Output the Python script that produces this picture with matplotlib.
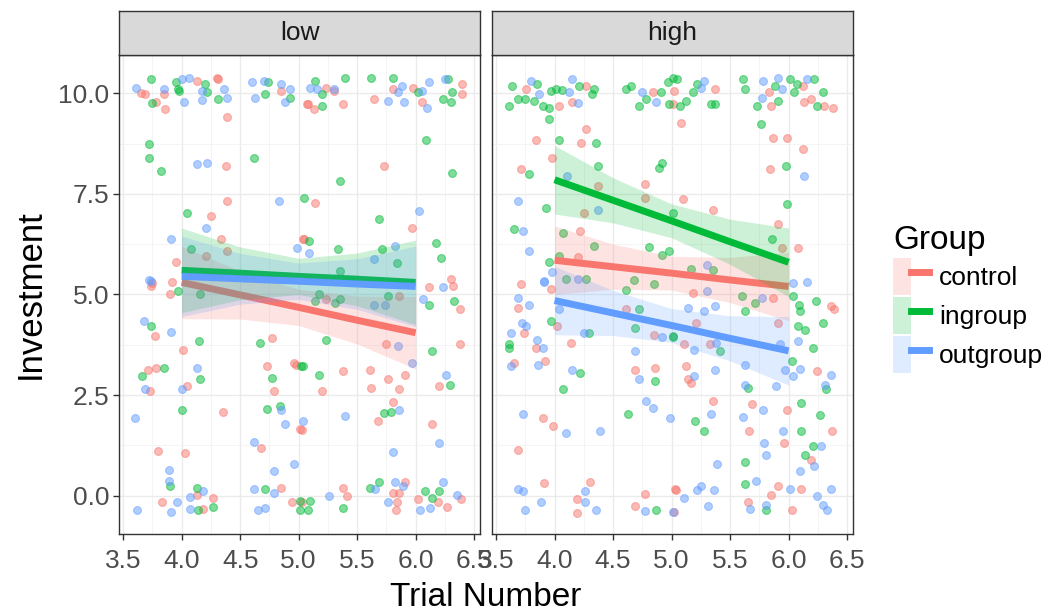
import numpy as np
import matplotlib
matplotlib.use("Agg")
import matplotlib.pyplot as plt
from matplotlib.patches import Patch
from matplotlib.lines import Line2D
from matplotlib.legend_handler import HandlerTuple

plt.rcParams['font.family'] = ['Liberation Sans', 'DejaVu Sans']

groups = ['control', 'ingroup', 'outgroup']
colors = ['#F8766D', '#00BA38', '#619CFF']
panels = ['low', 'high']

# jittered points: (trial number, investment)
low_control = [(3.65, 10.0), (3.69, 9.97), (3.78, 9.78), (3.85, 9.97), (3.86, 9.6), (4.13, 10.31), (4.3, 10.39),
               (4.31, 10.35), (4.39, 9.4), (4.85, 10.06), (5.08, 9.74), (4.38, 8.19), (4.39, 7.32), (4.25, 6.95),
               (4.34, 6.37), (4.21, 5.95), (4.39, 6.08), (3.95, 5.8), (5.05, 6.37), (3.75, 5.29), (3.92, 5.3),
               (5.23, 10.14), (5.3, 10.06), (5.07, 9.72), (5.13, 9.6), (5.38, 9.72), (5.64, 9.86), (5.81, 10.1),
               (5.98, 10.14), (6.05, 9.77), (6.4, 10.23), (6.4, 9.97), (5.73, 8.19), (5.14, 7.28), (5.97, 6.66),
               (5.04, 6.37), (6.3, 5.39), (6.11, 5.19), (6.32, 5.2), (3.74, 5.22), (3.9, 5.0), (3.77, 3.98),
               (4.01, 3.63), (3.71, 3.13), (3.78, 3.18), (3.73, 2.6), (4.05, 2.72), (4.35, 2.08), (3.8, 1.1),
               (4.03, 1.06), (4.13, 0.02), (4.27, -0.06), (3.83, -0.16), (4.18, -0.33), (4.77, 3.92), (4.73, 3.22),
               (4.79, 2.6), (4.96, 3.3), (4.98, 3.26), (5.01, 1.66), (4.68, 1.19), (4.85, 0.19), (4.94, -0.16),
               (6.38, 4.63), (5.23, 4.89), (5.86, 4.96), (5.75, 3.77), (6.38, 3.77), (5.2, 2.6), (5.38, 3.09),
               (5.61, 3.13), (5.76, 2.9), (5.91, 3.01), (5.62, 2.68), (5.86, 2.64), (6.2, 2.72), (5.03, 1.64),
               (5.81, 2.32), (5.68, 1.85), (6.14, 1.77), (5.03, -0.16), (5.38, 0.19), (5.41, 0.0), (5.91, 0.33),
               (5.81, 0.08), (5.86, 0.06), (5.84, -0.16), (5.83, -0.36), (6.02, -0.08), (6.19, -0.16),
               (6.27, -0.28), (6.39, -0.08)]
low_ingroup = [(3.74, 10.35), (3.75, 9.75), (3.95, 10.27), (3.97, 10.1), (3.98, 10.06), (4.2, 10.23), (4.22, 10.02),
               (4.31, 9.85), (4.74, 10.27), (4.71, 9.97), (4.93, 9.89), (3.72, 8.73), (3.72, 8.4), (3.82, 8.07),
               (4.62, 8.4), (5.05, 7.4), (4.05, 7.03), (4.08, 6.12), (5.09, 6.33), (5.14, 10.31), (5.2, 9.97),
               (5.2, 9.68), (5.4, 10.39), (5.62, 10.39), (5.81, 10.39), (6.02, 10.02), (6.28, 10.35), (6.31, 10.02),
               (6.23, 9.85), (6.3, 9.77), (6.09, 8.85), (6.31, 8.03), (5.35, 7.82), (5.69, 6.87), (5.34, 6.12),
               (5.71, 6.12), (5.84, 5.79), (5.35, 5.58), (6.17, 6.29), (6.22, 5.91), (3.97, 5.08), (4.16, 5.0),
               (3.74, 4.21), (4.15, 3.84), (3.85, 3.18), (3.66, 2.97), (4.16, 2.89), (4.0, 2.14), (3.9, 0.23),
               (4.13, 0.19), (4.27, -0.27), (4.14, -0.36), (4.67, 3.8), (4.77, 2.93), (5.02, 3.23), (4.73, 2.15),
               (4.84, 2.24), (4.71, 0.17), (5.01, -0.13), (5.01, -0.35), (6.11, 4.75), (6.33, 4.83), (5.17, 5.0),
               (5.14, 4.83), (5.31, 4.79), (5.35, 4.88), (5.76, 4.96), (5.23, 3.88), (6.14, 3.59), (5.04, 3.22),
               (5.17, 3.01), (6.29, 2.76), (5.73, 2.06), (5.79, 2.08), (5.1, -0.13), (5.08, -0.36), (5.38, -0.31),
               (5.61, 0.19), (5.69, 0.33), (6.08, 0.13), (6.14, -0.05), (6.2, 0.13)]
low_outgroup = [(3.61, 10.13), (3.85, 10.1), (4.0, 10.35), (4.06, 10.39), (4.02, 9.79), (4.17, 10.06), (4.17, 9.82),
                (4.36, 10.1), (4.39, 9.89), (4.6, 10.27), (4.63, 9.89), (4.7, 10.31), (4.85, 10.23), (4.93, 10.1),
                (4.88, 9.77), (4.13, 8.23), (4.22, 8.27), (4.83, 7.32), (4.21, 6.66), (3.91, 6.37), (4.99, 6.16),
                (3.72, 5.37), (5.1, 10.14), (5.16, 10.1), (5.3, 10.1), (5.88, 10.18), (5.85, 10.02), (5.76, 9.81),
                (5.9, 9.77), (6.11, 10.27), (6.05, 10.06), (6.1, 9.64), (6.25, 10.35), (6.03, 7.07), (5.09, 6.04),
                (5.64, 5.87), (5.82, 6.2), (6.23, 5.19), (3.74, 5.33), (3.68, 4.34), (3.91, 4.06), (4.13, 3.18),
                (3.69, 2.65), (4.0, 2.64), (3.6, 1.93), (3.89, 0.65), (3.89, 0.36), (4.18, 0.11), (4.07, -0.02),
                (3.96, -0.16), (4.07, -0.33), (3.62, -0.36), (3.91, -0.4), (4.85, 2.14), (4.88, 1.78), (5.04, 1.85),
                (4.62, 1.33), (4.96, 0.79), (4.79, 0.61), (4.62, 0.17), (4.79, 0.07), (4.65, -0.36), (4.71, -0.31),
                (6.06, 4.88), (5.64, 4.75), (5.74, 4.73), (5.85, 3.72), (5.97, 3.3), (6.26, 3.01), (5.4, 1.97),
                (5.86, 2.14), (6.2, 1.31), (5.81, 1.08), (5.26, 0.0), (5.65, 0.17), (5.82, 0.33), (5.89, 0.23),
                (5.76, -0.16), (6.04, -0.36), (6.12, -0.31), (6.23, 0.33), (6.35, 0.02)]

high_control = [(3.76, 10.1), (4.04, 9.68), (4.27, 10.18), (4.15, 9.78), (4.27, 9.1), (3.84, 8.85), (4.23, 8.77),
                (3.98, 8.4), (3.71, 8.11), (4.84, 10.02), (4.77, 7.74), (4.77, 7.4), (4.37, 7.7), (4.25, 7.03),
                (4.22, 6.58), (4.2, 5.94), (3.71, 5.25), (5.02, 10.06), (5.01, 9.72), (5.37, 10.1), (5.08, 9.27),
                (5.83, 10.02), (5.85, 9.68), (6.12, 10.18), (6.13, 9.77), (6.19, 9.85), (6.3, 9.68), (6.38, 9.64),
                (5.87, 8.9), (5.99, 8.9), (6.12, 8.61), (5.84, 8.11), (5.1, 7.36), (5.35, 7.11), (5.91, 6.74),
                (5.94, 6.16), (6.08, 6.16), (3.97, 5.13), (3.69, 4.67), (3.74, 4.05), (3.84, 3.67), (3.65, 3.3),
                (3.92, 3.34), (4.02, 4.21), (4.14, 3.8), (3.9, 1.93), (3.99, 1.73), (3.69, 1.14), (3.91, 0.31),
                (4.3, 0.35), (4.19, -0.08), (4.19, -0.43), (4.61, 4.63), (4.85, 4.0), (4.69, 3.13), (4.86, 3.18),
                (4.77, 0.04), (4.69, -0.26), (5.04, 0.15), (5.18, 5.04), (5.21, 4.3), (5.87, 4.92), (5.91, 4.3),
                (5.11, 3.76), (5.33, 3.76), (5.12, 3.22), (5.14, 2.89), (5.17, 2.8), (6.24, 3.09), (6.36, 4.71),
                (6.39, 4.63), (5.35, 2.35), (5.66, 1.6), (5.69, 2.27), (5.99, 2.14), (6.37, 1.6), (5.96, 1.31),
                (6.19, 0.88), (5.03, 0.17), (5.91, 0.25), (5.85, 0.02), (6.11, 0.17), (5.65, -0.16), (6.03, -0.35),
                (5.02, -0.41)]
high_ingroup = [(3.64, 10.18), (3.61, 9.68), (3.69, 9.85), (3.75, 9.85), (3.85, 10.23), (3.82, 9.81), (3.9, 9.68),
                (3.95, 9.64), (3.95, 9.35), (3.97, 10.06), (4.01, 10.1), (4.06, 10.08), (4.21, 10.18), (4.32, 9.97),
                (4.34, 10.1), (4.04, 8.85), (4.35, 8.77), (4.37, 8.19), (3.78, 7.99), (4.89, 8.15), (4.92, 8.27),
                (4.61, 10.1), (4.65, 10.18), (4.91, 10.02), (4.78, 9.85), (4.72, 9.68), (4.98, 9.72), (5.01, 10.39),
                (4.97, 10.27), (3.93, 7.15), (3.65, 6.62), (4.07, 6.53), (4.34, 6.21), (4.81, 6.19), (4.92, 5.98),
                (4.98, 6.07), (4.04, 5.96), (3.95, 5.8), (4.1, 5.39), (4.27, 5.39), (4.68, 5.36), (4.85, 5.25),
                (5.05, 10.35), (5.07, 9.68), (5.12, 9.81), (5.18, 10.02), (5.22, 10.23), (5.34, 9.72), (5.37, 9.72),
                (5.61, 10.35), (5.63, 10.1), (6.01, 10.35), (5.88, 10.18), (5.73, 9.68), (5.91, 9.81), (6.05, 10.02),
                (6.07, 10.23), (6.22, 10.35), (6.29, 10.02), (6.24, 9.68), (5.76, 9.23), (5.98, 8.19), (5.99, 7.24),
                (5.01, 7.03), (5.86, 6.37), (5.17, 5.64), (5.35, 5.62), (3.61, 3.76), (3.61, 3.67), (3.97, 4.34),
                (4.29, 4.05), (4.22, 3.05), (4.07, 2.64), (4.61, 5.12), (4.72, 4.65), (4.69, 4.17), (5.01, 3.94),
                (4.86, 2.85), (4.63, 2.02), (4.87, -0.35), (5.6, 4.96), (5.71, 4.79), (5.63, 4.59), (5.01, 3.96),
                (5.41, 3.59), (5.65, 2.68), (6.03, 3.34), (6.04, 4.96), (6.09, 4.75), (6.1, 4.59), (6.08, 4.21),
                (6.14, 4.13), (6.23, 4.83), (6.29, 4.3), (6.21, 3.67), (6.32, 2.65), (5.2, 1.85), (5.28, 1.6),
                (6.11, 2.31), (6.27, 2.0), (6.11, 1.6), (6.21, 1.24), (6.14, 1.0), (5.63, 0.83), (5.63, 0.29),
                (5.81, -0.36)]
high_outgroup = [(3.8, 10.31), (3.87, 9.97), (4.12, 10.02), (4.15, 10.35), (4.2, 9.76), (4.75, 10.02), (4.87, 9.77),
                 (4.11, 7.94), (3.69, 7.32), (4.37, 7.11), (3.73, 6.58), (3.78, 6.07), (3.98, 5.55), (3.91, 5.3),
                 (4.2, 5.39), (5.28, 10.31), (5.25, 10.14), (5.78, 10.31), (5.91, 10.39), (5.94, 10.1), (5.77, 9.87),
                 (6.16, 10.35), (6.13, 7.94), (5.3, 5.74), (6.04, 5.28), (6.16, 5.31), (3.91, 5.33), (3.69, 4.92),
                 (3.78, 4.75), (3.72, 4.3), (3.76, 4.21), (3.63, 4.05), (3.85, 3.88), (3.9, 3.67), (3.63, 3.22),
                 (3.86, 3.26), (4.04, 4.63), (4.25, 4.05), (4.15, 3.13), (3.73, 2.02), (4.1, 1.56), (4.39, 1.6),
                 (3.69, 0.17), (3.73, 0.11), (4.26, 0.11), (3.88, -0.16), (4.26, -0.16), (3.75, -0.35), (4.35, -0.36),
                 (4.92, 3.94), (4.69, 3.59), (4.72, 2.89), (4.78, 2.35), (4.84, 2.18), (4.99, 1.93), (4.77, -0.39),
                 (5.01, -0.41), (5.3, 5.08), (5.14, 4.67), (5.28, 4.59), (5.37, 4.71), (5.77, 4.92), (5.19, 3.63),
                 (5.38, 3.8), (5.19, 2.97), (5.37, 3.13), (5.63, 3.26), (5.63, 2.76), (5.89, 2.72), (5.93, 3.76),
                 (5.97, 3.12), (6.04, 2.97), (6.1, 3.15), (6.36, 3.01), (6.08, 3.84), (6.31, 2.74), (5.34, 2.02),
                 (5.61, 1.95), (5.78, 2.12), (5.95, 1.6), (5.79, 1.31), (5.81, 1.0), (6.28, 1.24), (6.22, 0.75),
                 (6.1, 0.61), (5.39, 0.79), (5.22, 0.14), (5.25, 0.25), (5.11, -0.06), (5.36, 0.15), (5.72, 0.37),
                 (6.01, 0.17), (6.36, 0.17), (6.24, -0.01), (5.31, -0.26), (5.67, -0.33), (5.81, -0.22),
                 (6.29, -0.22), (6.33, -0.36)]

# fitted lines and confidence bands, read at these trial numbers
fit_x = [4.0, 4.5, 5.0, 5.5, 6.0]
low_control_fit = [5.30, 4.99, 4.68, 4.36, 4.05]
low_control_lo = [4.40, 4.39, 4.23, 3.77, 3.15]
low_control_hi = [6.20, 5.58, 5.13, 4.96, 4.95]
low_ingroup_fit = [5.60, 5.53, 5.45, 5.38, 5.30]
low_ingroup_lo = [4.55, 4.87, 5.00, 4.72, 4.25]
low_ingroup_hi = [6.65, 6.18, 5.90, 6.03, 6.35]
low_outgroup_fit = [5.45, 5.39, 5.33, 5.26, 5.20]
low_outgroup_lo = [4.45, 4.76, 4.88, 4.63, 4.20]
low_outgroup_hi = [6.45, 6.02, 5.78, 5.89, 6.20]
high_control_fit = [5.85, 5.69, 5.53, 5.36, 5.20]
high_control_lo = [5.00, 5.13, 5.11, 4.80, 4.35]
high_control_hi = [6.70, 6.25, 5.95, 5.92, 6.05]
high_ingroup_fit = [7.85, 7.34, 6.83, 6.31, 5.80]
high_ingroup_lo = [7.00, 6.78, 6.41, 5.75, 4.95]
high_ingroup_hi = [8.70, 7.90, 7.25, 6.87, 6.65]
high_outgroup_fit = [4.85, 4.54, 4.23, 3.91, 3.60]
high_outgroup_lo = [4.00, 3.98, 3.81, 3.35, 2.75]
high_outgroup_hi = [5.70, 5.10, 4.65, 4.47, 4.45]

x_ticks = [3.5, 4.0, 4.5, 5.0, 5.5, 6.0, 6.5]
y_ticks = [0.0, 2.5, 5.0, 7.5, 10.0]

points = {'low': [low_control, low_ingroup, low_outgroup],
          'high': [high_control, high_ingroup, high_outgroup]}
fits = {'low': [(low_control_fit, low_control_lo, low_control_hi),
                (low_ingroup_fit, low_ingroup_lo, low_ingroup_hi),
                (low_outgroup_fit, low_outgroup_lo, low_outgroup_hi)],
        'high': [(high_control_fit, high_control_lo, high_control_hi),
                 (high_ingroup_fit, high_ingroup_lo, high_ingroup_hi),
                 (high_outgroup_fit, high_outgroup_lo, high_outgroup_hi)]}

fig = plt.figure(figsize=(10.58, 6.13), dpi=100)
panel_lefts = [0.1125, 0.465]
pw, pb, ph = 0.3412, 0.1289, 0.7814

for i, name in enumerate(panels):
    ax = fig.add_axes([panel_lefts[i], pb, pw, ph])
    ax.set_xlim(3.465, 6.55)
    ax.set_ylim(-0.95, 10.95)
    ax.set_xticks(x_ticks)
    ax.set_xticks(np.arange(3.75, 6.5, 0.5), minor=True)
    ax.set_yticks(y_ticks)
    ax.set_yticks([1.25, 3.75, 6.25, 8.75], minor=True)
    ax.grid(True, which='major', color='#EBEBEB', lw=1.0, zorder=0)
    ax.grid(True, which='minor', color='#F2F2F2', lw=0.6, zorder=0)
    ax.set_axisbelow(True)
    for sp in ax.spines.values():
        sp.set_color('#333333')
        sp.set_linewidth(1.0)
    ax.tick_params(which='minor', length=0)
    ax.tick_params(which='major', length=4, width=1, color='#333333', labelsize=19,
                   labelcolor='#4D4D4D', pad=3)
    ax.tick_params(axis='x', pad=7)
    if i == 1:
        ax.tick_params(axis='y', which='both', left=False, labelleft=False)
    else:
        ax.set_yticklabels(['%.1f' % v for v in y_ticks])
    ax.set_xticklabels(['%.1f' % v for v in x_ticks])

    for pts, c in zip(points[name], colors):
        arr = np.array(pts)
        ax.scatter(arr[:, 0], arr[:, 1], s=32, color=c, alpha=0.5, edgecolors=c,
                   linewidths=0.8, zorder=2)
    for (fit, lo, hi), c in zip(fits[name], colors):
        ax.fill_between(fit_x, lo, hi, color=c, alpha=0.2, lw=0, zorder=3)
        ax.plot(fit_x, fit, color=c, lw=5, solid_capstyle='butt', zorder=3)

    # facet strip
    sx = fig.add_axes([panel_lefts[i], pb + ph, pw, 0.0718])
    sx.set_facecolor('#D9D9D9')
    sx.set_xticks([])
    sx.set_yticks([])
    for sp in sx.spines.values():
        sp.set_color('#333333')
        sp.set_linewidth(1.0)
    sx.text(0.5, 0.5, name, ha='center', va='center', fontsize=19, color='#1A1A1A',
            transform=sx.transAxes)

fig.text(0.459, 0.025, 'Trial Number', ha='center', va='center', fontsize=24)
fig.text(0.029, 0.52, 'Investment', ha='center', va='center', rotation=90, fontsize=25)

handles = [(Patch(facecolor=c, alpha=0.2, lw=0), Line2D([], [], color=c, lw=5)) for c in colors]
fig.legend(handles, groups, title='Group', loc='center left', bbox_to_anchor=(0.834, 0.512),
           frameon=False, fontsize=19, title_fontsize=24, handlelength=1.35, handleheight=1.78,
           labelspacing=0.08, handletextpad=0.4, borderaxespad=0, alignment='left',
           handler_map={tuple: HandlerTuple(ndivide=None, pad=0)})

fig.savefig('out.png', dpi=100)
